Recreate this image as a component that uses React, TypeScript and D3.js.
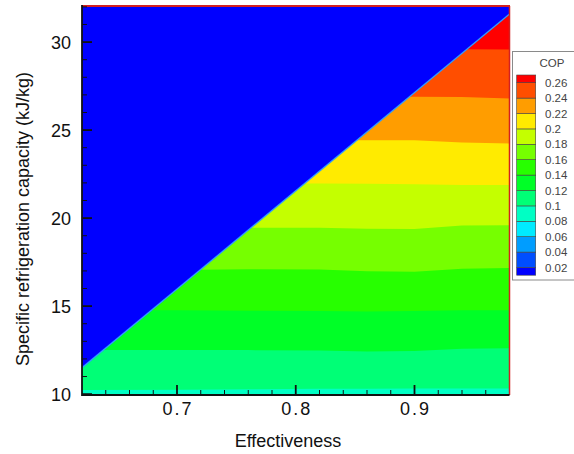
import React from "react";
import * as d3 from "d3";

// ---- data ----
const effectivenessSamples = [0.62, 0.7, 0.76, 0.82, 0.86, 0.9, 0.94, 0.98];
// capacity (kJ/kg) where COP equals each contour level, at each effectiveness sample
const cop010 = [10.23, 10.25, 10.28, 10.3, 10.3, 10.32, 10.32, 10.32];
const cop012 = [12.5, 12.5, 12.5, 12.48, 12.42, 12.45, 12.58, 12.6];
const cop014 = [14.77, 14.77, 14.74, 14.72, 14.7, 14.72, 14.77, 14.77];
const cop016 = [17.0, 17.05, 17.09, 17.08, 16.98, 16.95, 17.12, 17.16];
const cop018 = [19.4, 19.42, 19.45, 19.45, 19.4, 19.38, 19.58, 19.6];
const cop020 = [22.0, 21.98, 21.97, 21.97, 21.95, 21.92, 21.88, 21.88];
const cop022 = [24.45, 24.45, 24.43, 24.43, 24.43, 24.43, 24.3, 24.24];
const cop024 = [26.9, 26.9, 26.9, 26.9, 26.9, 26.89, 26.88, 26.8];
const cop026 = [29.6, 29.6, 29.6, 29.6, 29.6, 29.59, 29.59, 29.58];
const contourLevels = [0.1, 0.12, 0.14, 0.16, 0.18, 0.2, 0.22, 0.24, 0.26];
const contourLines = [cop010, cop012, cop014, cop016, cop018, cop020, cop022, cop024, cop026];

// boundary of the feasible region (above it COP ~ 0)
const limitEffectiveness = [0.62, 0.98];
const limitCapacity = [11.5, 31.6];

const xTicks = [0.7, 0.8, 0.9];
const yTicks = [10, 15, 20, 25, 30];
const legendLevels = [0.26, 0.24, 0.22, 0.2, 0.18, 0.16, 0.14, 0.12, 0.1, 0.08, 0.06, 0.04, 0.02];
const legendLabels = ["0.26", "0.24", "0.22", "0.2", "0.18", "0.16", "0.14", "0.12", "0.1", "0.08", "0.06", "0.04", "0.02"];

const FONT = "'Liberation Sans', Arial, sans-serif";

// band color: index 0 (< 0.02) blue ... 13 (> 0.26) red
const bandColor = (k: number) => d3.hsl(240 - (k * 240) / 13, 1, 0.5).formatHex();
const bandIndex = (lowerLevel: number) => Math.round(lowerLevel / 0.02); // band above level

export default function App() {
  const left = 82, right = 509.5, top = 6, bottom = 395;
  const x = d3.scaleLinear().domain([0.62, 0.98]).range([left, right]);
  const y = d3.scaleLinear().domain([9.95, 32.05]).range([bottom, top]);
  const [yMin, yMax] = y.domain();

  const area = d3
    .area<[number, number]>()
    .x((d) => x(d[0]))
    .y0(y(yMin))
    .y1((d) => y(d[1]));

  // paint from the highest band down
  const layers: { d: string; fill: string }[] = [];
  for (let i = contourLines.length - 1; i >= 0; i--) {
    const pts = effectivenessSamples.map((e, j) => [e, contourLines[i][j]] as [number, number]);
    layers.push({ d: area(pts) as string, fill: bandColor(bandIndex(contourLevels[i]) - 1) });
  }

  const limitPts = limitEffectiveness.map((e, j) => [e, limitCapacity[j]] as [number, number]);
  const infeasible = d3
    .area<[number, number]>()
    .x((d) => x(d[0]))
    .y0(y(yMax))
    .y1((d) => y(d[1]))(limitPts) as string;
  const limitLine = d3
    .line<[number, number]>()
    .x((d) => x(d[0]))
    .y((d) => y(d[1]))(limitPts) as string;

  const xMinor = d3.range(0.64, 0.975, 0.02).filter((v) => !xTicks.some((t) => Math.abs(t - v) < 1e-6));
  const yMinor = d3.range(11, 32.5, 1).filter((v) => !yTicks.includes(v));

  // legend
  const ly = d3.scaleLinear().domain([0.26, 0.02]).range([82.7, 267.5]);
  const barX = 516.7, barW = 19;
  const legendBoxes = d3.range(0, 14).map((k) => {
    const lo = k * 0.02 - 0.02; // lower edge level
    const hi = k * 0.02;
    const yTop = k === 13 ? ly(0.27) : ly(hi + 0.0);
    const yBot = k === 0 ? ly(0.01) : ly(lo + 0.02 - 0.02 + 0.0);
    return { k, yTop: k === 13 ? ly(0.27) : ly(k * 0.02 + 0.02 - 0.0), yBot: k === 0 ? ly(0.01) : ly(k * 0.02) , _a: yTop, _b: yBot};
  });

  return (
    <svg width={574} height={454} style={{ position: "absolute", left: 0, top: 0, background: "#fff" }}>
      <defs>
        <clipPath id="plot">
          <rect x={left} y={top} width={right - left} height={bottom - top} />
        </clipPath>
      </defs>
      <g clipPath="url(#plot)">
        <rect x={left} y={top} width={right - left} height={bottom - top} fill={bandColor(13)} />
        {layers.map((l, i) => (
          <path key={i} d={l.d} fill={l.fill} />
        ))}
        <path d={infeasible} fill={bandColor(0)} />
        <path d={limitLine} fill="none" stroke="#2f9cff" strokeWidth={1.3} />
      </g>

      {/* frame */}
      <line x1={left} x2={right + 0.5} y1={top} y2={top} stroke="#d42020" strokeWidth={2} />
      <line x1={right} x2={right} y1={top} y2={bottom} stroke="#d42020" strokeWidth={1.5} />
      <line x1={left} x2={left} y1={top - 1} y2={bottom + 1} stroke="#111" strokeWidth={1.8} />
      <line x1={left} x2={right} y1={bottom} y2={bottom} stroke="#111" strokeWidth={1.8} />

      {/* y ticks */}
      {yTicks.map((t) => (
        <g key={t}>
          <line x1={left} x2={left + 10} y1={y(t)} y2={y(t)} stroke="#111" strokeWidth={1.8} />
          <text x={71} y={y(t)} dy="0.36em" textAnchor="end" fontFamily={FONT} fontSize={18} fill="#111">
            {t}
          </text>
        </g>
      ))}
      {yMinor.map((t) => (
        <line key={t} x1={left} x2={left + 5} y1={y(t)} y2={y(t)} stroke="#111" strokeWidth={1} />
      ))}

      {/* x ticks */}
      {xTicks.map((t) => (
        <g key={t}>
          <line x1={x(t)} x2={x(t)} y1={bottom} y2={bottom - 10} stroke="#111" strokeWidth={1.8} />
          <text x={x(t) + 1} y={414.5} textAnchor="middle" fontFamily={FONT} fontSize={18} letterSpacing={2} fill="#111">
            {t.toFixed(1)}
          </text>
        </g>
      ))}
      {xMinor.map((t) => (
        <line key={t} x1={x(t)} x2={x(t)} y1={bottom} y2={bottom - 5} stroke="#111" strokeWidth={1} />
      ))}

      {/* axis titles */}
      <text x={288} y={446.5} textAnchor="middle" fontFamily={FONT} fontSize={18} fill="#111">
        Effectiveness
      </text>
      <text
        transform={`translate(28.5, 219) rotate(-90)`}
        textAnchor="middle"
        fontFamily={FONT}
        fontSize={18}
        fill="#111"
      >
        Specific refrigeration capacity (kJ/kg)
      </text>

      {/* legend */}
      <rect x={512.5} y={51.5} width={80} height={228.5} fill="#fff" stroke="#8a8a8a" strokeWidth={1} />
      <text x={552} y={66.5} textAnchor="middle" fontFamily={FONT} fontSize={11.5} fill="#444">
        COP
      </text>
      {legendBoxes.map((b) => (
        <rect
          key={b.k}
          x={barX}
          y={b.yTop}
          width={barW}
          height={b.yBot - b.yTop}
          fill={bandColor(b.k)}
          stroke="#444"
          strokeWidth={0.6}
        />
      ))}
      {legendLevels.map((v, i) => (
        <text key={v} x={545} y={ly(v)} dy="0.36em" fontFamily={FONT} fontSize={11.5} fill="#444">
          {legendLabels[i]}
        </text>
      ))}
    </svg>
  );
}
